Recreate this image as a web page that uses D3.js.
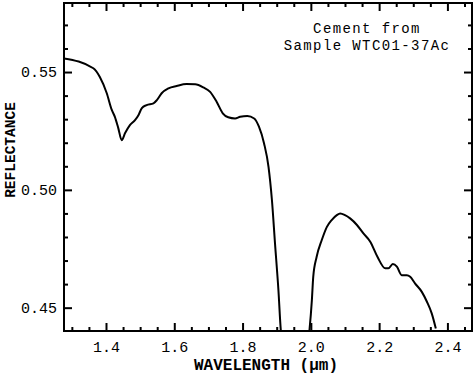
<!DOCTYPE html>
<html>
<head>
<meta charset="utf-8">
<script src="https://cdn.jsdelivr.net/npm/d3@7"></script>
<style>
  body { margin: 0; background: #fff; }
  text { font-family: "Liberation Mono", "DejaVu Sans Mono", monospace; fill: #000; }
</style>
</head>
<body>
<script>
// Reflectance spectrum of cement, sample WTC01-37Ac

// wavelength (um) and reflectance
var wavelength = [1.277, 1.363, 1.382, 1.402, 1.417, 1.426, 1.436, 1.446, 1.456, 1.470,
  1.485, 1.495, 1.505, 1.519, 1.539, 1.549, 1.563, 1.583, 1.607, 1.636,
  1.661, 1.685, 1.705, 1.724, 1.742, 1.758, 1.778, 1.793, 1.814, 1.834,
  1.848, 1.863, 1.876, 1.886, 1.895, 1.905, 1.912, 1.93, 1.96, 1.985,
  1.996, 2.003, 2.007, 2.017, 2.032, 2.047, 2.061, 2.076, 2.086, 2.100,
  2.115, 2.135, 2.154, 2.174, 2.195, 2.218, 2.227, 2.240, 2.252, 2.266,
  2.281, 2.291, 2.305, 2.325, 2.340, 2.354, 2.366];
var reflectance = [0.5558, 0.5516, 0.5479, 0.5411, 0.5339, 0.5310, 0.5262, 0.5211, 0.5241, 0.5275,
  0.5296, 0.5317, 0.5347, 0.5360, 0.5367, 0.5381, 0.5410, 0.5431, 0.5441, 0.5449,
  0.5448, 0.5435, 0.5416, 0.5374, 0.5325, 0.5308, 0.5303, 0.5310, 0.5313, 0.5303,
  0.5268, 0.5197, 0.5098, 0.4957, 0.4773, 0.4575, 0.4405, 0.425, 0.418, 0.428,
  0.4405, 0.4532, 0.4631, 0.4716, 0.4787, 0.4843, 0.4872, 0.4893, 0.4900, 0.4893,
  0.4879, 0.4851, 0.4815, 0.4780, 0.4716, 0.4667, 0.4667, 0.4685, 0.4674, 0.4638,
  0.4638, 0.4631, 0.4603, 0.4567, 0.4525, 0.4476, 0.4412];

var xMajor = [1.4, 1.6, 1.8, 2.0, 2.2, 2.4];
var yMajor = [0.45, 0.50, 0.55];
var titleLines = ["Cement from", "Sample WTC01-37Ac"];

window.onload = function(){

  var w = 474, h = 374;
  var left = 64, right = 472, top = 3, bottom = 331;

  var svg = d3.select("body").append("svg")
    .attr("width", w)
    .attr("height", h);

  var x = d3.scaleLinear().domain([1.277, 2.472]).range([left, right]);
  var y = d3.scaleLinear().domain([0.4401, 0.5793]).range([bottom, top]);

  var xMinor = d3.range(1.30, 2.4501, 0.05).filter(function(v){
    return !xMajor.some(function(m){ return Math.abs(m - v) < 1e-6; });
  });
  var yMinor = d3.range(0.45, 0.5751, 0.01).filter(function(v){
    return !yMajor.some(function(m){ return Math.abs(m - v) < 1e-6; });
  });

  // clip the spectrum to the frame
  svg.append("clipPath").attr("id", "plotClip")
    .append("rect")
    .attr("x", left).attr("y", top)
    .attr("width", right - left).attr("height", bottom - top);

  var line = d3.line()
    .x(function(d){ return x(d[0]); })
    .y(function(d){ return y(d[1]); })
    .curve(d3.curveMonotoneX);

  svg.append("path")
    .datum(d3.zip(wavelength, reflectance))
    .attr("clip-path", "url(#plotClip)")
    .attr("d", line)
    .attr("fill", "none")
    .attr("stroke", "#000")
    .attr("stroke-width", 2)
    .attr("stroke-linejoin", "round");

  // ticks, all pointing inward
  function addAxis(axisFn, scale, values, size, tx, ty, labels){
    var a = axisFn(scale).tickValues(values).tickSize(-size).tickPadding(10);
    if (labels) a.tickFormat(d3.format(labels)); else a.tickFormat("");
    var g = svg.append("g")
      .attr("transform", "translate(" + tx + "," + ty + ")")
      .call(a);
    g.select(".domain").remove();
    g.selectAll(".tick line").attr("stroke", "#000").attr("stroke-width", 2);
    g.selectAll("text").style("font-size", "15px").attr("fill", "#000");
    return g;
  }

  addAxis(d3.axisBottom, x, xMajor, 8, 0, bottom, ".1f");
  addAxis(d3.axisBottom, x, xMinor, 4, 0, bottom, null);
  addAxis(d3.axisTop, x, xMajor, 8, 0, top, null);
  addAxis(d3.axisTop, x, xMinor, 4, 0, top, null);
  var yl = addAxis(d3.axisLeft, y, yMajor, 8, left, 0, ".2f");
  yl.selectAll("text").attr("x", -7);
  addAxis(d3.axisLeft, y, yMinor, 4, left, 0, null);
  addAxis(d3.axisRight, y, yMajor, 8, right, 0, null);
  addAxis(d3.axisRight, y, yMinor, 4, right, 0, null);

  // frame
  svg.append("rect")
    .attr("x", left).attr("y", top)
    .attr("width", right - left).attr("height", bottom - top)
    .attr("fill", "none")
    .attr("stroke", "#000")
    .attr("stroke-width", 2);

  // axis titles
  svg.append("text")
    .attr("x", 266).attr("y", 370)
    .attr("text-anchor", "middle")
    .style("font-size", "16px")
    .style("font-weight", "bold")
    .text("WAVELENGTH (\u03bcm)");

  svg.append("text")
    .attr("transform", "translate(15,150) rotate(-90)")
    .attr("text-anchor", "middle")
    .style("font-size", "14.5px")
    .style("font-weight", "bold")
    .text("REFLECTANCE");

  // sample note
  svg.selectAll(".note")
    .data(titleLines)
    .enter().append("text")
    .attr("class", "note")
    .attr("x", 367)
    .attr("y", function(d, i){ return 33 + i * 16.5; })
    .attr("text-anchor", "middle")
    .style("font-size", "14px")
    .style("letter-spacing", "1.4px")
    .text(function(d){ return d; });
};
</script>
</body>
</html>
